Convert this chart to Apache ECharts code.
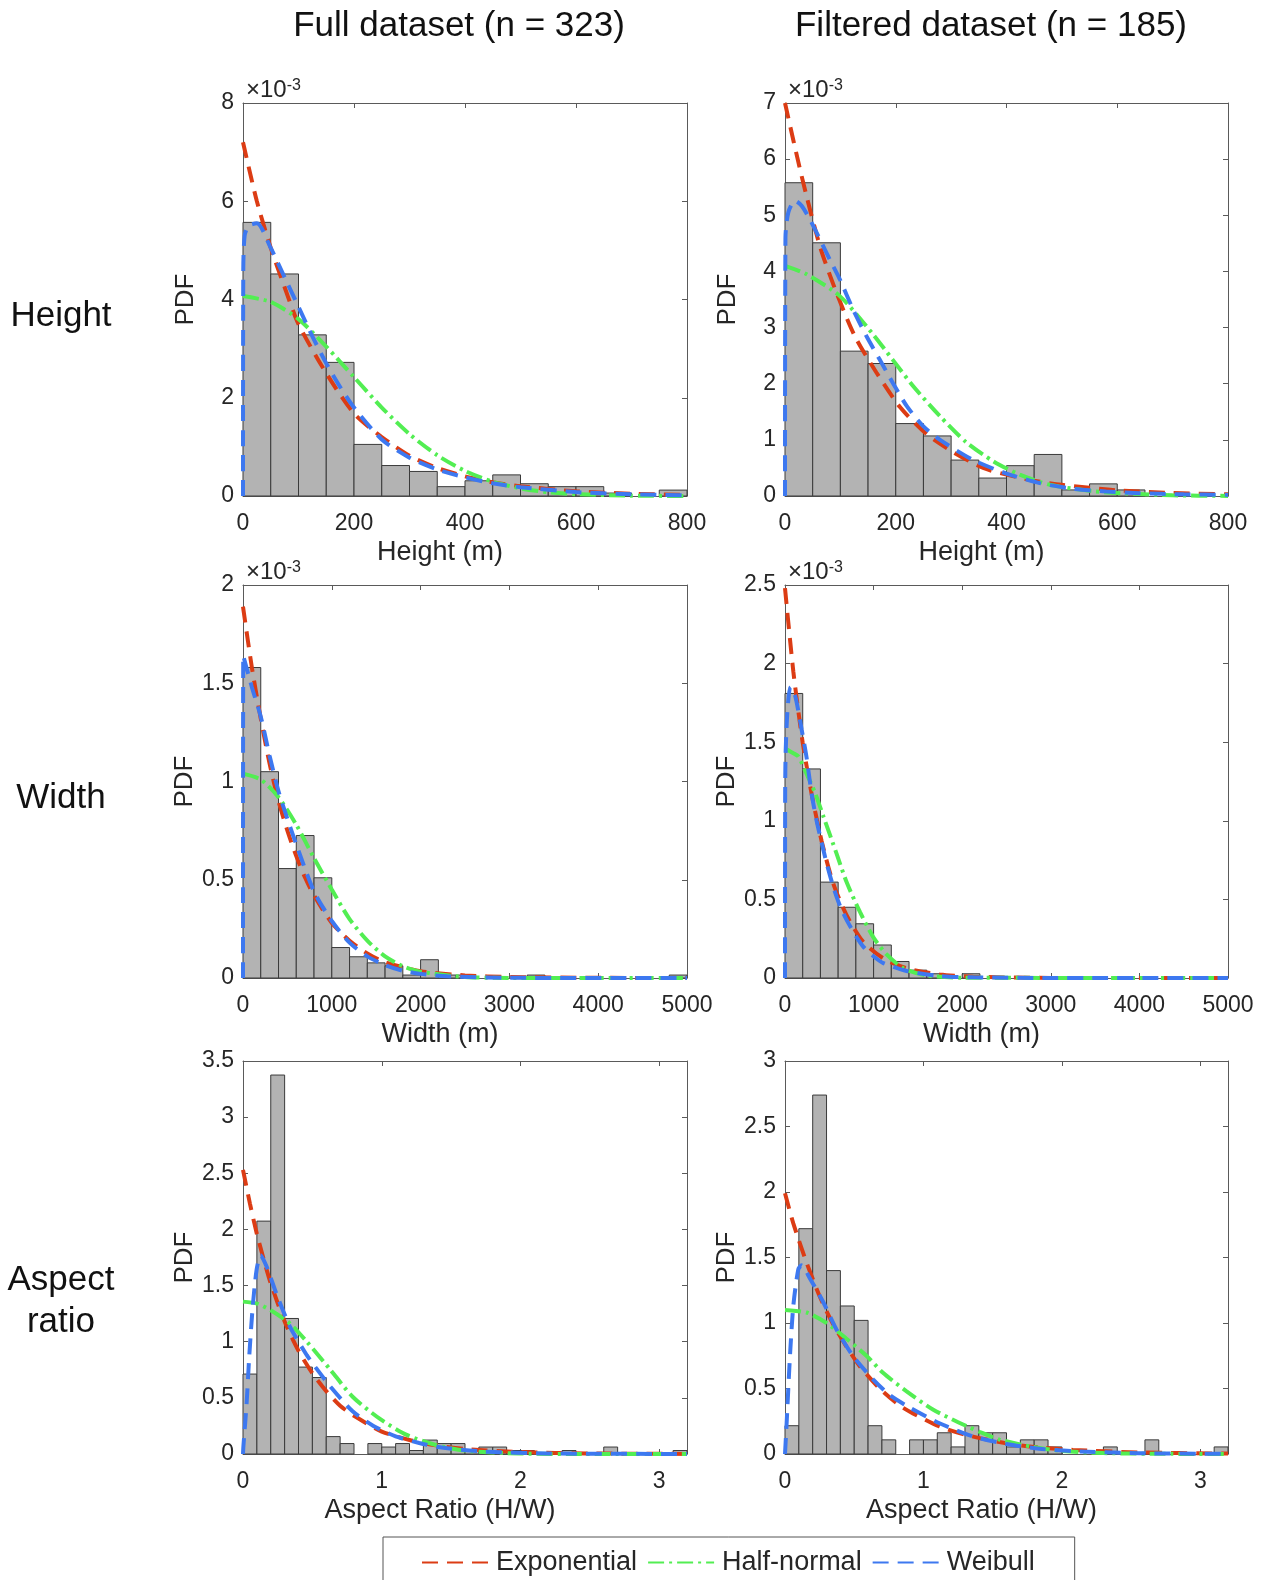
<!DOCTYPE html>
<html>
<head>
<meta charset="utf-8">
<script src="https://cdn.jsdelivr.net/npm/echarts@6/dist/echarts.min.js"></script>
<style>
  html, body { margin: 0; padding: 0; background: #ffffff; }
  #chart { width: 1268px; height: 1580px; }
</style>
</head>
<body>
<div id="chart"></div>
<script>
// ---------------------------------------------------------------
// Histogram densities (PDF) and fitted distribution curves
// Height / Width values are in units of 1e-3 (see axis multiplier)
// ---------------------------------------------------------------

// Bin widths of each histogram
const heightBinWidth = 50;
const widthBinWidth = 200;
const ratioBinWidth = 0.1;

// ---- Height, full dataset ----
const heightFullPdf = [5.57, 4.52, 3.28, 2.72, 1.05, 0.62, 0.50, 0.19, 0.31, 0.43, 0.25, 0.19, 0.19, 0.06, 0, 0.12];
const heightFullExp = [[0,7.2],[25,6.0],[50,5.05],[75,4.25],[100,3.5],[150,2.5],[200,1.68],[250,1.2],[300,0.82],[350,0.57],[400,0.4],[450,0.28],[500,0.2],[600,0.095],[700,0.047],[800,0.023]];
const heightFullHalfNormal = [[0,4.07],[50,3.95],[100,3.6],[150,3.04],[200,2.42],[250,1.8],[300,1.26],[350,0.83],[400,0.51],[450,0.29],[500,0.155],[550,0.075],[600,0.037],[700,0.007],[800,0.001]];
const heightFullWeibull = [[0,0],[0.5,4.6],[3,5.3],[10,5.5],[25,5.55],[50,5.05],[75,4.45],[100,3.85],[125,3.25],[150,2.7],[175,2.22],[200,1.8],[250,1.15],[300,0.78],[350,0.54],[400,0.38],[450,0.26],[500,0.18],[600,0.08],[700,0.035],[800,0.015]];

// ---- Height, filtered dataset ----
const heightFilteredPdf = [5.58, 4.51, 2.58, 2.36, 1.29, 1.07, 0.64, 0.32, 0.54, 0.74, 0.108, 0.216, 0.108, 0, 0, 0];
const heightFilteredExp = [[0,7.0],[30,5.7],[63,4.45],[93,3.62],[126,2.85],[165,2.2],[208,1.58],[256,1.1],[304,0.78],[358,0.5],[400,0.38],[450,0.27],[500,0.2],[600,0.1],[700,0.055],[800,0.03]];
const heightFilteredHalfNormal = [[0,4.1],[39,3.95],[99,3.56],[159,2.88],[195,2.42],[232,1.95],[280,1.42],[327,0.96],[376,0.62],[424,0.38],[478,0.2],[557,0.085],[617,0.045],[700,0.012],[800,0.002]];
const heightFilteredWeibull = [[0,0],[0.8,4.6],[6,5.05],[18,5.26],[30,5.17],[48,4.87],[81,4.21],[99,3.86],[123,3.32],[147,2.85],[171,2.43],[195,2.01],[220,1.6],[250,1.24],[280,1.0],[340,0.64],[400,0.4],[460,0.23],[520,0.13],[580,0.08],[640,0.05],[720,0.03],[800,0.02]];

// ---- Width, full dataset ----
const widthFullPdf = [1.58, 1.05, 0.557, 0.725, 0.51, 0.155, 0.108, 0.077, 0.062, 0.015, 0.093, 0.015, 0.015, 0, 0, 0, 0.015, 0, 0, 0, 0, 0, 0, 0, 0.015];
const widthFullExp = [[0,1.89],[100,1.58],[200,1.32],[300,1.09],[400,0.9],[500,0.75],[600,0.62],[700,0.51],[800,0.42],[1000,0.28],[1200,0.19],[1400,0.125],[1600,0.08],[2000,0.035],[2500,0.013],[3000,0.005],[4000,0.001],[5000,0]];
const widthFullHalfNormal = [[0,1.04],[200,1.01],[400,0.92],[600,0.78],[800,0.61],[1000,0.45],[1200,0.3],[1400,0.19],[1600,0.11],[1800,0.06],[2000,0.032],[2500,0.005],[3000,0.0005],[5000,0]];
const widthFullWeibull = [[0,0],[3,1.64],[100,1.48],[200,1.33],[300,1.13],[400,0.95],[500,0.81],[600,0.68],[800,0.44],[1000,0.29],[1200,0.18],[1400,0.11],[1600,0.066],[1800,0.037],[2000,0.021],[2300,0.009],[3000,0.001],[5000,0]];

// ---- Width, filtered dataset ----
const widthFilteredPdf = [1.81, 1.33, 0.61, 0.45, 0.345, 0.21, 0.105, 0.05, 0.027, 0, 0.027, 0, 0, 0, 0, 0, 0, 0, 0, 0, 0, 0, 0, 0, 0];
const widthFilteredExp = [[0,2.48],[94,1.95],[199,1.5],[301,1.17],[414,0.87],[545,0.6],[695,0.4],[883,0.23],[1109,0.125],[1372,0.062],[1748,0.022],[2124,0.008],[3000,0.0007],[5000,0]];
const widthFilteredHalfNormal = [[0,1.46],[94,1.43],[150,1.41],[226,1.32],[338,1.18],[432,1.03],[583,0.79],[695,0.61],[846,0.42],[996,0.26],[1147,0.15],[1335,0.062],[1598,0.016],[2000,0.002],[5000,0]];
const widthFilteredWeibull = [[0,0],[2,1.2],[8,1.45],[30,1.72],[64,1.85],[113,1.8],[188,1.58],[244,1.4],[301,1.17],[357,1.0],[414,0.86],[470,0.73],[545,0.58],[620,0.46],[695,0.37],[808,0.26],[883,0.2],[996,0.14],[1109,0.095],[1372,0.045],[1748,0.013],[2124,0.004],[3000,0.0003],[5000,0]];

// ---- Aspect ratio, full dataset ----
const ratioFullPdf = [0.712, 2.074, 3.375, 1.207, 0.774, 0.681, 0.155, 0.093, 0, 0.093, 0.062, 0.093, 0.031, 0.124, 0.093, 0.093, 0.031, 0.062, 0.062, 0.031, 0.031, 0, 0, 0.031, 0, 0, 0.062, 0, 0, 0, 0, 0.031];
const ratioFullExp = [[0,2.53],[0.05,2.23],[0.1,1.96],[0.15,1.73],[0.2,1.52],[0.3,1.18],[0.4,0.92],[0.5,0.72],[0.6,0.56],[0.7,0.43],[0.8,0.34],[1.0,0.2],[1.2,0.125],[1.4,0.075],[1.6,0.045],[2.0,0.017],[2.5,0.005],[3.2,0.001]];
const ratioFullHalfNormal = [[0,1.357],[0.1,1.34],[0.2,1.28],[0.34,1.16],[0.46,1.0],[0.63,0.75],[0.79,0.51],[0.99,0.31],[1.18,0.17],[1.39,0.08],[1.6,0.03],[2.0,0.004],[2.5,0.0003],[3.2,0]];
const ratioFullWeibull = [[0,0],[0.003,0.07],[0.026,0.45],[0.045,0.87],[0.07,1.31],[0.098,1.64],[0.127,1.77],[0.17,1.67],[0.24,1.43],[0.34,1.13],[0.46,0.88],[0.53,0.76],[0.63,0.6],[0.79,0.38],[0.94,0.25],[1.1,0.157],[1.27,0.098],[1.42,0.06],[1.73,0.022],[2.2,0.005],[3.2,0.0003]];

// ---- Aspect ratio, filtered dataset ----
const ratioFilteredPdf = [0.216, 1.72, 2.74, 1.40, 1.13, 1.02, 0.216, 0.108, 0, 0.108, 0.108, 0.162, 0.054, 0.216, 0.162, 0.162, 0.054, 0.108, 0.108, 0.054, 0, 0, 0, 0.054, 0, 0, 0.108, 0, 0, 0, 0, 0.054];
const ratioFilteredExp = [[0,1.99],[0.06,1.76],[0.156,1.46],[0.252,1.2],[0.348,0.99],[0.444,0.82],[0.54,0.67],[0.684,0.5],[0.828,0.37],[0.924,0.31],[1.116,0.21],[1.31,0.145],[1.6,0.081],[1.84,0.05],[2.08,0.031],[2.56,0.012],[3.2,0.003]];
const ratioFilteredHalfNormal = [[0,1.1],[0.156,1.08],[0.3,1.0],[0.444,0.88],[0.588,0.75],[0.708,0.62],[0.876,0.48],[1.068,0.34],[1.236,0.25],[1.33,0.205],[1.404,0.17],[1.55,0.11],[1.79,0.054],[2.0,0.024],[2.3,0.007],[2.8,0.001],[3.2,0]];
const ratioFilteredWeibull = [[0,0],[0.012,0.24],[0.036,0.75],[0.06,1.13],[0.096,1.41],[0.12,1.44],[0.18,1.34],[0.276,1.16],[0.372,0.95],[0.49,0.75],[0.636,0.57],[0.756,0.45],[0.876,0.37],[1.116,0.235],[1.356,0.135],[1.6,0.077],[1.836,0.04],[2.076,0.022],[2.556,0.006],[3.2,0.001]];

// Text labels
const columnTitles = ['Full dataset (n = 323)', 'Filtered dataset (n = 185)'];
const rowTitles = ['Height', 'Width', 'Aspect\nratio'];
const xAxisTitles = ['Height (m)', 'Width (m)', 'Aspect Ratio (H/W)'];
const yAxisTitle = 'PDF';
const fitNames = ['Exponential', 'Half-normal', 'Weibull'];

// ---------------------------------------------------------------
// Layout and style
// ---------------------------------------------------------------
const FONT = "'Liberation Sans', Arial, Helvetica, sans-serif";
const TEXT = '#262626';
const AXIS = '#5a5a5a';
const colLeft = [243, 785];
const colWidth = [444, 443];
const rowTop = [103, 585, 1061];
const rowHeight = 393;
const columnTitleX = [459, 991];
const rowTitleY = [316, 798, 1301];

const fitStyles = [
  { color: '#DC3C14', type: [16, 9] },
  { color: '#52EE52', type: [16, 5, 3, 5] },
  { color: '#3D78F0', type: [16, 9] }
];

// One entry per subplot (row, column)
const panels = [
  { row: 0, col: 0, pdf: heightFullPdf, binW: heightBinWidth, xMax: 800, xStep: 200, yMax: 8, yStep: 2, fits: [heightFullExp, heightFullHalfNormal, heightFullWeibull], scaled: true },
  { row: 0, col: 1, pdf: heightFilteredPdf, binW: heightBinWidth, xMax: 800, xStep: 200, yMax: 7, yStep: 1, fits: [heightFilteredExp, heightFilteredHalfNormal, heightFilteredWeibull], scaled: true },
  { row: 1, col: 0, pdf: widthFullPdf, binW: widthBinWidth, xMax: 5000, xStep: 1000, yMax: 2, yStep: 0.5, fits: [widthFullExp, widthFullHalfNormal, widthFullWeibull], scaled: true },
  { row: 1, col: 1, pdf: widthFilteredPdf, binW: widthBinWidth, xMax: 5000, xStep: 1000, yMax: 2.5, yStep: 0.5, fits: [widthFilteredExp, widthFilteredHalfNormal, widthFilteredWeibull], scaled: true },
  { row: 2, col: 0, pdf: ratioFullPdf, binW: ratioBinWidth, xMax: 3.2, xStep: 1, yMax: 3.5, yStep: 0.5, fits: [ratioFullExp, ratioFullHalfNormal, ratioFullWeibull], scaled: false },
  { row: 2, col: 1, pdf: ratioFilteredPdf, binW: ratioBinWidth, xMax: 3.2, xStep: 1, yMax: 3, yStep: 0.5, fits: [ratioFilteredExp, ratioFilteredHalfNormal, ratioFilteredWeibull], scaled: false }
];

const grid = [], xAxis = [], yAxis = [], series = [], graphic = [];
const lineStyleAxis = { color: AXIS, width: 1 };
const plainNumber = v => String(+v.toFixed(6));

panels.forEach((p, i) => {
  grid.push({ left: colLeft[p.col], top: rowTop[p.row], width: colWidth[p.col], height: rowHeight, containLabel: false });

  const showMax = Math.abs(p.xMax / p.xStep - Math.round(p.xMax / p.xStep)) < 1e-9;
  // bottom x axis (labels) + top x axis (box edge and ticks)
  xAxis.push({
    gridIndex: i, type: 'value', min: 0, max: p.xMax, interval: p.xStep, position: 'bottom',
    name: xAxisTitles[p.row], nameLocation: 'middle', nameGap: 43,
    nameTextStyle: { fontSize: 27, color: TEXT, fontFamily: FONT, padding: [0, 50, 0, 0] },
    axisLine: { show: true, onZero: false, lineStyle: lineStyleAxis },
    axisTick: { show: true, inside: true, length: 5, lineStyle: lineStyleAxis },
    axisLabel: { show: true, margin: 16, fontSize: 23, color: TEXT, fontFamily: FONT, showMaxLabel: showMax, formatter: plainNumber },
    splitLine: { show: false }
  });
  xAxis.push({
    gridIndex: i, type: 'value', min: 0, max: p.xMax, interval: p.xStep, position: 'top',
    axisLine: { show: true, onZero: false, lineStyle: lineStyleAxis },
    axisTick: { show: true, inside: true, length: 5, lineStyle: lineStyleAxis },
    axisLabel: { show: false }, splitLine: { show: false }
  });
  // left y axis (labels) + right y axis (box edge and ticks)
  yAxis.push({
    gridIndex: i, type: 'value', min: 0, max: p.yMax, interval: p.yStep, position: 'left',
    name: yAxisTitle, nameLocation: 'middle', nameGap: 44,
    nameTextStyle: { fontSize: 26, color: TEXT, fontFamily: FONT },
    axisLine: { show: true, onZero: false, lineStyle: lineStyleAxis },
    axisTick: { show: true, inside: true, length: 5, lineStyle: lineStyleAxis },
    axisLabel: { show: true, margin: 9, fontSize: 23, color: TEXT, fontFamily: FONT, formatter: plainNumber },
    splitLine: { show: false }
  });
  yAxis.push({
    gridIndex: i, type: 'value', min: 0, max: p.yMax, interval: p.yStep, position: 'right',
    axisLine: { show: true, onZero: false, lineStyle: lineStyleAxis },
    axisTick: { show: true, inside: true, length: 5, lineStyle: lineStyleAxis },
    axisLabel: { show: false }, splitLine: { show: false }
  });

  // histogram bars: [binStart, binEnd, density]
  series.push({
    type: 'custom', xAxisIndex: 2 * i, yAxisIndex: 2 * i, silent: true, z: 2,
    data: p.pdf.map((d, k) => [k * p.binW, (k + 1) * p.binW, d]),
    encode: { x: [0, 1], y: 2 },
    renderItem: (params, api) => {
      const h = api.value(2);
      if (!(h > 0)) return null;
      const a = api.coord([api.value(0), h]);
      const b = api.coord([api.value(1), 0]);
      return {
        type: 'rect',
        shape: { x: a[0], y: a[1], width: b[0] - a[0], height: b[1] - a[1] },
        style: { fill: '#b3b3b3', stroke: '#3a3a3a', lineWidth: 1 }
      };
    }
  });

  // fitted distributions
  p.fits.forEach((pts, f) => {
    series.push({
      type: 'line', name: fitNames[f], xAxisIndex: 2 * i, yAxisIndex: 2 * i,
      data: pts, smooth: 0.25, symbol: 'none', showSymbol: false, silent: true, z: 4 + f,
      clip: true,
      lineStyle: { color: fitStyles[f].color, width: 4, type: fitStyles[f].type, cap: 'butt' },
      itemStyle: { color: fitStyles[f].color, opacity: 0 }
    });
  });

  // axis multiplier label
  if (p.scaled) {
    graphic.push({
      type: 'text', x: colLeft[p.col] + 3, y: rowTop[p.row] - 13, silent: true,
      style: {
        text: '×10{s|-3}', fontSize: 24, fontFamily: FONT, fill: TEXT,
        textAlign: 'left', textVerticalAlign: 'middle', align: 'left', verticalAlign: 'middle',
        rich: { s: { fontSize: 16, fontFamily: FONT, fill: TEXT, verticalAlign: 'top', lineHeight: 16 } }
      }
    });
  }
});

// column titles
columnTitles.forEach((t, c) => {
  graphic.push({
    type: 'text', x: columnTitleX[c], y: 26, silent: true,
    style: { text: t, fontSize: 35, fontFamily: FONT, fill: '#111',
      textAlign: 'center', textVerticalAlign: 'middle', align: 'center', verticalAlign: 'middle' }
  });
});

// row titles
rowTitles.forEach((t, r) => {
  graphic.push({
    type: 'text', x: 61, y: rowTitleY[r], silent: true,
    style: { text: t, fontSize: 35, lineHeight: 42, fontFamily: FONT, fill: '#111',
      textAlign: 'center', textVerticalAlign: 'middle', align: 'center', verticalAlign: 'middle' }
  });
});

const option = {
  animation: false,
  backgroundColor: '#ffffff',
  textStyle: { fontFamily: FONT },
  grid, xAxis, yAxis, series, graphic,
  legend: {
    data: fitNames,
    left: 383, top: 1537,
    orient: 'horizontal',
    itemWidth: 66, itemHeight: 20, itemGap: 10,
    padding: [12, 40, 40, 38],
    borderColor: '#555', borderWidth: 1,
    selectedMode: false,
    itemStyle: { opacity: 0 },
    textStyle: { fontSize: 27, color: TEXT, fontFamily: FONT, padding: [0, 0, 0, 3] }
  }
};

const chart = echarts.init(document.getElementById('chart'), null, { renderer: 'canvas' });
chart.setOption(option);
</script>
</body>
</html>
